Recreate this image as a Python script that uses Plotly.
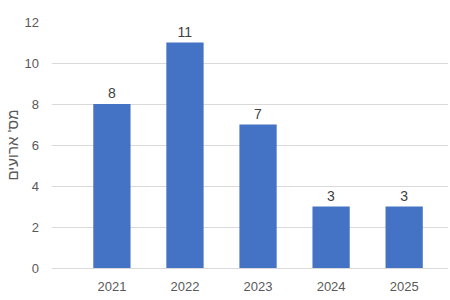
import plotly.graph_objects as go

years = ["2021", "2022", "2023", "2024", "2025"]
events = [8, 11, 7, 3, 3]
y_ticks = [0, 2, 4, 6, 8, 10, 12]
y_title = "מס' ארועים"

fig = go.Figure(go.Bar(
    x=years, y=events,
    marker=dict(color="#4472c4", line=dict(width=0)),
    width=0.51,
    text=[str(v) for v in events],
    textposition="outside",
    textfont=dict(size=14, color="#404040", family="Liberation Sans"),
    cliponaxis=False,
))

fig.update_layout(
    width=450, height=300,
    margin=dict(l=52, r=2, t=22, b=32),
    paper_bgcolor="white", plot_bgcolor="white",
    showlegend=False,
    font=dict(family="Liberation Sans", size=13, color="#595959"),
)
fig.update_xaxes(
    type="category", range=[-0.82, 4.6],
    showgrid=False, showline=True, linecolor="#d9d9d9", linewidth=1,
    ticks="", tickfont=dict(size=13, color="#595959"),
    ticklabelstandoff=6,
)
fig.update_yaxes(
    range=[0, 12], tickvals=y_ticks,
    showgrid=True, gridcolor="#d9d9d9", gridwidth=1,
    zeroline=False, showline=False, ticks="",
    tickfont=dict(size=13, color="#595959"),
    ticklabelstandoff=12,
    title=dict(text=y_title, font=dict(size=15, color="#595959"), standoff=2),
)

fig.write_html("out.html")
